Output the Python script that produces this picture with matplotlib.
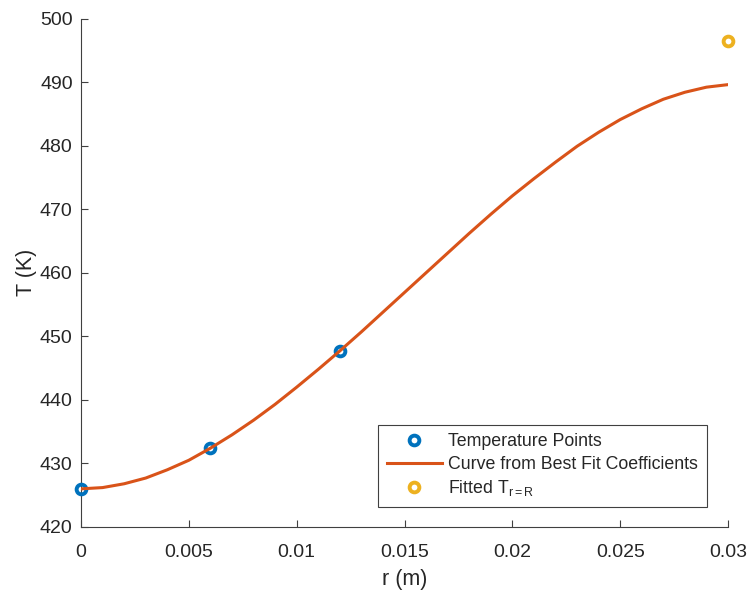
import matplotlib
matplotlib.use("Agg")
import matplotlib.pyplot as plt

plt.rcParams["font.family"] = ["Liberation Sans", "DejaVu Sans"]
plt.rcParams["mathtext.fontset"] = "custom"
plt.rcParams["mathtext.rm"] = "Liberation Sans"
plt.rcParams["mathtext.it"] = "Liberation Sans:italic"

# Measured temperatures at the thermocouple radii
r_points = [0.0, 0.006, 0.012]
T_points = [426.0, 432.4, 447.7]

# Best-fit temperature profile, sampled every 1 mm
r_curve = [0.000, 0.001, 0.002, 0.003, 0.004, 0.005, 0.006, 0.007, 0.008,
           0.009, 0.010, 0.011, 0.012, 0.013, 0.014, 0.015, 0.016, 0.017,
           0.018, 0.019, 0.020, 0.021, 0.022, 0.023, 0.024, 0.025, 0.026,
           0.027, 0.028, 0.029, 0.030]
T_curve = [426.0, 426.2, 426.8, 427.7, 429.0, 430.5, 432.4, 434.5, 436.8,
           439.3, 442.0, 444.8, 447.7, 450.7, 453.8, 456.9, 460.0, 463.1,
           466.2, 469.2, 472.1, 474.8, 477.4, 479.9, 482.1, 484.1, 485.8,
           487.3, 488.4, 489.2, 489.6]

# Extrapolated wall temperature
r_wall = [0.03]
T_wall = [496.5]

x_ticks = [0, 0.005, 0.01, 0.015, 0.02, 0.025, 0.03]
x_tick_labels = ["0", "0.005", "0.01", "0.015", "0.02", "0.025", "0.03"]
y_ticks = [420, 430, 440, 450, 460, 470, 480, 490, 500]

blue = "#0072BD"
orange = "#D95319"
yellow = "#EDB120"
axis_color = "#404040"
text_color = "#262626"

fig = plt.figure(figsize=(7.48, 5.90), dpi=100)
ax = fig.add_axes([0.1083, 0.1068, 0.8650, 0.8618])

ax.plot(r_points, T_points, linestyle="none", marker="o", markersize=7,
        markeredgewidth=2.8, markeredgecolor=blue, markerfacecolor="none",
        clip_on=False, zorder=3, label="Temperature Points")
ax.plot(r_curve, T_curve, color=orange, linewidth=2.2, zorder=4,
        label="Curve from Best Fit Coefficients")
ax.plot(r_wall, T_wall, linestyle="none", marker="o", markersize=7,
        markeredgewidth=2.8, markeredgecolor=yellow, markerfacecolor="none",
        clip_on=False, zorder=5, label=r"Fitted T$_\mathregular{r=R}$")

ax.set_xlim(0, 0.03)
ax.set_ylim(420, 500)
ax.set_xticks(x_ticks)
ax.set_xticklabels(x_tick_labels)
ax.set_yticks(y_ticks)

for side in ("top", "right"):
    ax.spines[side].set_visible(False)
for side in ("left", "bottom"):
    ax.spines[side].set_color(axis_color)
    ax.spines[side].set_linewidth(0.8)

ax.tick_params(axis="both", direction="in", length=5, width=0.8,
               color=axis_color, labelcolor=text_color, labelsize=14)
ax.tick_params(axis="y", pad=6)
ax.tick_params(axis="x", pad=12)

ax.set_xlabel("r (m)", fontsize=15.5, color=text_color, labelpad=6)
ax.set_ylabel("T (K)", fontsize=15.5, color=text_color, labelpad=2)

leg = ax.legend(loc="lower left", bbox_to_anchor=(378 / 748, 1 - 507 / 590),
                bbox_transform=fig.transFigure, borderaxespad=0,
                fontsize=12.8, frameon=True, fancybox=False, framealpha=1,
                edgecolor=axis_color, handlelength=3.1, handletextpad=0.35,
                labelspacing=0.3, borderpad=0.5)
leg.get_frame().set_linewidth(0.8)
for t in leg.get_texts():
    t.set_color(text_color)

fig.savefig("out.png", dpi=100)
